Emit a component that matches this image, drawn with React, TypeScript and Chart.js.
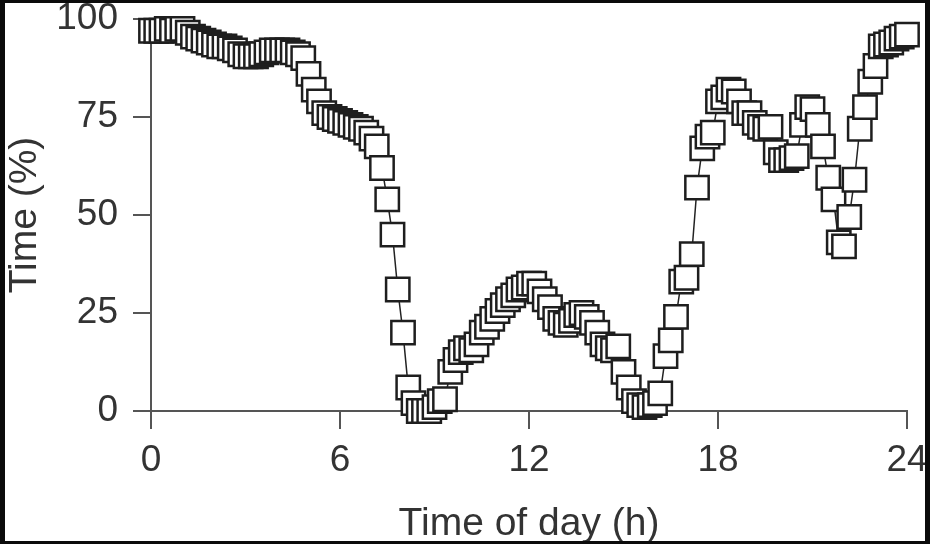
import React, { useEffect, useRef } from "react";
import { Chart, registerables } from "chart.js";

Chart.register(...registerables);

// Time of day in minutes (10-minute samples)
const MINUTES = [
  0, 10, 20, 30, 40, 50, 60, 70, 80, 90, 100, 110,
  120, 130, 140, 150, 160, 170, 180, 190, 200, 210, 220, 230,
  240, 250, 260, 270, 280, 290, 300, 310, 320, 330, 340, 350,
  360, 370, 380, 390, 400, 410, 420, 430, 440, 450, 460, 470,
  480, 490, 500, 510, 520, 530, 540, 550, 560, 570, 580, 590,
  600, 610, 620, 630, 640, 650, 660, 670, 680, 690, 700, 710,
  720, 730, 740, 750, 760, 770, 780, 790, 800, 810, 820, 830,
  840, 850, 860, 870, 880, 890, 900, 910, 920, 930, 940, 950,
  960, 970, 980, 990, 1000, 1010, 1020, 1030, 1040, 1050, 1060, 1070,
  1080, 1090, 1100, 1110, 1120, 1130, 1140, 1150, 1160, 1170, 1180, 1190,
  1200, 1210, 1220, 1230, 1240, 1250, 1260, 1270, 1280, 1290, 1300, 1310,
  1320, 1330, 1340, 1350, 1360, 1370, 1380, 1390, 1400, 1410, 1420, 1430,
  1440,
];

// Time (%)
const PERCENT = [
  97, 97, 97, 97.5, 97, 97.5, 97.5, 96.5, 95.5, 95, 94.5, 94,
  93.5, 93, 93, 92.5, 92, 91, 90.5, 90.5, 90.5, 91, 91.5, 92,
  92, 92, 92, 91.5, 91, 90, 86, 82, 79, 76, 75, 74.5,
  74, 73.5, 73, 72.5, 72, 71, 69.5, 67.5, 62, 54, 45, 31,
  20, 6, 2, 0, 0, 0, 1, 2.5, 3, 10, 13, 15,
  16, 15.5, 17, 20, 21.5, 23.5, 25.5, 27, 28.5, 29.5, 31, 31.5,
  32.5, 32.5, 30.5, 28.5, 26.5, 23.5, 22.5, 22, 23, 24.5, 25, 24,
  22.5, 20, 17, 16, 15.5, 16.5, 10, 6, 2.5, 1.5, 1, 1.5,
  2, 4.5, 14, 18, 24, 33, 34, 40, 57, 67, 70, 71,
  79, 80, 82, 81.5, 79, 76, 76, 73.5, 72.5, 72, 72.5, 66,
  64, 64, 64.5, 65, 73, 77.5, 77, 73, 67.5, 59.5, 54, 43,
  42, 49.5, 59, 72, 77.5, 84, 88, 93, 93.5, 94, 95, 95.5,
  96,
];

const X_TICKS = [0, 6, 12, 18, 24];
const Y_TICKS = [0, 25, 50, 75, 100];

const FONT_FAMILY = "'Liberation Sans', Arial, Helvetica, sans-serif";
const AXIS_COLOR = "#555";
const TEXT_COLOR = "#333";

export default function App() {
  const canvasRef = useRef<HTMLCanvasElement | null>(null);

  useEffect(() => {
    const canvas = canvasRef.current;
    if (!canvas) return;
    const points = MINUTES.map((m, i) => ({ x: m / 60, y: PERCENT[i] }));
    const chart = new Chart(canvas, {
      type: "line",
      data: {
        datasets: [
          {
            data: points,
            borderColor: "#222",
            borderWidth: 1.5,
            pointStyle: "rect",
            pointRadius: 16.5,
            pointBorderWidth: 2.5,
            pointBorderColor: "#1e1e1e",
            pointBackgroundColor: "#ffffff",
            tension: 0,
            clip: false as any,
          },
        ],
      },
      options: {
        responsive: false,
        animation: false,
        devicePixelRatio: 1,
        events: [],
        layout: { padding: { left: 0, top: 18, right: 23, bottom: 0 } },
        plugins: {
          legend: { display: false },
          tooltip: { enabled: false },
        },
        scales: {
          x: {
            type: "linear",
            min: 0,
            max: 24,
            afterBuildTicks: (scale: any) => {
              scale.ticks = X_TICKS.map((v) => ({ value: v }));
            },
            afterFit: (scale: any) => {
              scale.height = 133;
              scale.paddingLeft = 0;
              scale.paddingRight = 0;
            },
            ticks: {
              autoSkip: false,
              maxRotation: 0,
              padding: 10,
              color: TEXT_COLOR,
              font: { family: FONT_FAMILY, size: 37 },
            },
            grid: {
              display: true,
              drawOnChartArea: false,
              drawTicks: true,
              tickLength: 18,
              color: AXIS_COLOR,
              lineWidth: 2,
            },
            border: { display: true, color: AXIS_COLOR, width: 2 },
            title: {
              display: true,
              text: "Time of day (h)",
              color: TEXT_COLOR,
              font: { family: FONT_FAMILY, size: 39, lineHeight: 1.0 },
              padding: { top: 0, bottom: 0 },
            },
          },
          y: {
            type: "linear",
            min: 0,
            max: 100,
            afterBuildTicks: (scale: any) => {
              scale.ticks = Y_TICKS.map((v) => ({ value: v }));
            },
            afterFit: (scale: any) => {
              scale.width = 151;
              scale.paddingTop = 0;
              scale.paddingBottom = 0;
            },
            ticks: {
              autoSkip: false,
              padding: 15,
              color: TEXT_COLOR,
              font: { family: FONT_FAMILY, size: 37 },
            },
            grid: {
              display: true,
              drawOnChartArea: false,
              drawTicks: true,
              tickLength: 18,
              color: AXIS_COLOR,
              lineWidth: 2,
            },
            border: { display: true, color: AXIS_COLOR, width: 2 },
            title: {
              display: true,
              text: "Time (%)",
              color: TEXT_COLOR,
              font: { family: FONT_FAMILY, size: 39, lineHeight: 1.0 },
              padding: { top: 5.5, bottom: 0 },
            },
          },
        },
      } as any,
    });
    return () => chart.destroy();
  }, []);

  return (
    <div
      style={{
        position: "absolute",
        left: 0,
        top: 0,
        width: 930,
        height: 544,
        background: "#ffffff",
        overflow: "hidden",
      }}
    >
      <canvas
        ref={canvasRef}
        width={930}
        height={544}
        style={{ position: "absolute", left: 0, top: 0, width: 930, height: 544 }}
      />
      <div
        style={{
          position: "absolute",
          left: 0,
          top: 0,
          width: 930,
          height: 544,
          boxSizing: "border-box",
          borderStyle: "solid",
          borderColor: "#0b0b0b",
          borderWidth: "3px 5px 3px 5px",
          pointerEvents: "none",
        }}
      />
    </div>
  );
}
